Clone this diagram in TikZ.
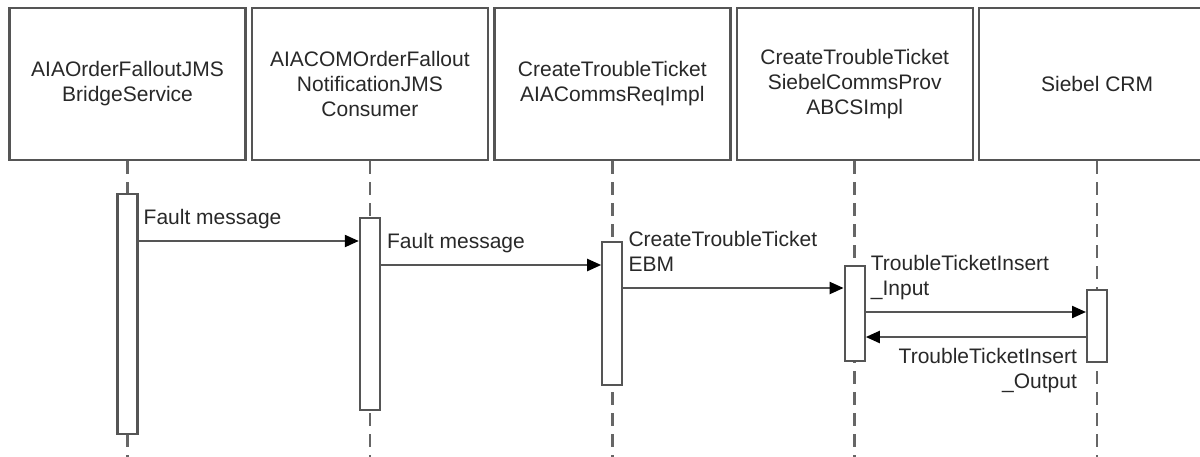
\documentclass[tikz,border=0pt]{standalone}
\usepackage{fontspec}
\setmainfont{Liberation Sans}
\usetikzlibrary{arrows.meta,positioning}
\definecolor{linegray}{RGB}{85,85,85}
\definecolor{textgray}{RGB}{40,40,40}

\begin{document}
\begin{tikzpicture}[x=1pt, y=1pt,
    font=\fontsize{21}{25}\selectfont,
    actor/.style={draw=linegray, line width=2.4pt, fill=white, minimum width=236pt,
        minimum height=152pt, align=center, text=textgray, inner sep=0pt},
    life/.style={draw=linegray!90, line width=2.6pt, dash pattern=on 13pt off 8pt},
    bar/.style={draw=linegray, line width=2.2pt, fill=white, minimum width=20pt, inner sep=0pt},
    msg/.style={draw=linegray, line width=2.2pt, -{Triangle[length=14pt,width=12pt,black]}},
    lbl/.style={text=textgray, inner sep=0pt, align=left, text depth=5pt}
]

    % Frame
    \useasboundingbox (0,0) rectangle (1200,-456);
    \clip (0,0) rectangle (1200,-456);
    \coordinate (bottom) at (0,-470);

    % Participants
    \node[actor] (bridge) at (127.5,-84) {AIAOrderFalloutJMS\\BridgeService};
    \node[actor, right=4pt of bridge] (consumer) {AIACOMOrderFallout\\NotificationJMS\\Consumer};
    \node[actor, right=4pt of consumer] (reqimpl) {CreateTroubleTicket\\AIACommsReqImpl};
    \node[actor, right=4pt of reqimpl] (provimpl) {CreateTroubleTicket\\SiebelCommsProv\\ABCSImpl};
    \node[actor, right=4pt of provimpl] (siebel) {Siebel CRM};

    % Lifelines
    \foreach \p in {bridge, consumer, reqimpl, provimpl, siebel}
        \draw[life] (\p.south) -- (\p.south |- bottom);

    % Activations
    \node[bar, anchor=north, minimum height=240pt] (barA) at (bridge.south |- 0,-193) {};
    \node[bar, anchor=north, minimum height=192pt] (barB) at (consumer.south |- 0,-217) {};
    \node[bar, anchor=north, minimum height=143pt] (barC) at (reqimpl.south |- 0,-241) {};
    \node[bar, anchor=north, minimum height=95pt] (barD) at (provimpl.south |- 0,-265) {};
    \node[bar, anchor=north, minimum height=72pt] (barE) at (siebel.south |- 0,-289) {};

    % Messages
    \draw[msg] (barA.east |- 0,-241) -- (barB.west |- 0,-241)
        node[lbl, pos=0, anchor=south west, xshift=4pt, yshift=10.5pt] {Fault message};
    \draw[msg] (barB.east |- 0,-265) -- (barC.west |- 0,-265)
        node[lbl, pos=0, anchor=south west, xshift=5pt, yshift=10.5pt] {Fault message};
    \draw[msg] (barC.east |- 0,-288) -- (barD.west |- 0,-288)
        node[lbl, pos=0, anchor=south west, xshift=4pt, yshift=10pt] {CreateTroubleTicket\\EBM};
    \draw[msg] (barD.east |- 0,-312) -- (barE.west |- 0,-312)
        node[lbl, pos=0, anchor=south west, xshift=4pt, yshift=10pt] {TroubleTicketInsert\\\_Input};
    \draw[msg] (barE.west |- 0,-337) -- (barD.east |- 0,-337)
        node[lbl, pos=0, anchor=north east, xshift=-8pt, yshift=-10.5pt, align=right, text depth=0pt] {TroubleTicketInsert\\\_Output};

\end{tikzpicture}
\end{document}
